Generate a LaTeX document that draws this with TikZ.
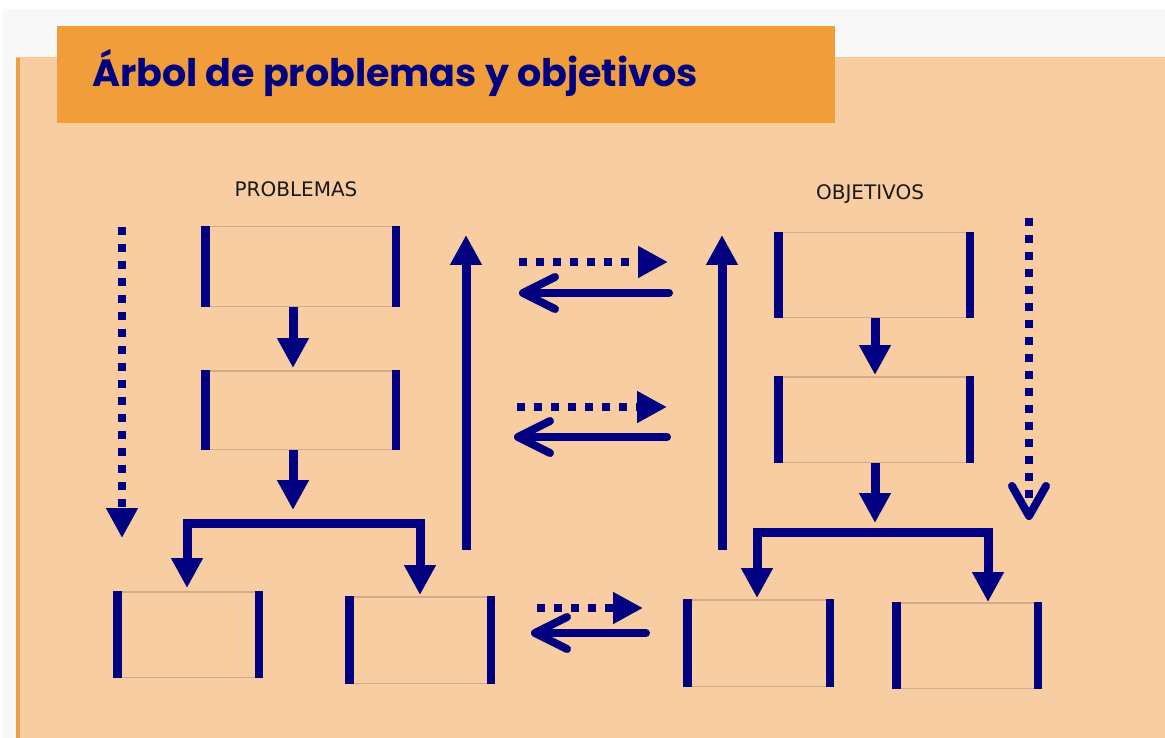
\documentclass[tikz,border=0pt]{standalone}
\usepackage{fontspec}
\newfontfamily\titlefont{Poppins}
\newfontfamily\labfont{DejaVu Sans}
\usetikzlibrary{arrows.meta}
\definecolor{navy}{RGB}{0,0,128}
\definecolor{peach}{RGB}{247,205,161}
\definecolor{orangebar}{RGB}{240,157,58}
\definecolor{edgeorange}{RGB}{238,160,70}
\definecolor{greybg}{RGB}{248,248,248}
\definecolor{tan}{RGB}{212,170,140}
\tikzset{
  boxline/.style={draw=tan, line width=1.5pt},
  tbox/.style={rectangle, inner sep=0pt, outer sep=0pt, fill=peach,
    path picture={
      \draw[boxline] ([yshift=-0.75pt]path picture bounding box.north west) -- ([yshift=-0.75pt]path picture bounding box.north east);
      \draw[boxline] ([yshift=0.75pt]path picture bounding box.south west) -- ([yshift=0.75pt]path picture bounding box.south east);
      \fill[navy] (path picture bounding box.north west) rectangle ([xshift=8.5pt]path picture bounding box.south west);
      \fill[navy] (path picture bounding box.north east) rectangle ([xshift=-8.5pt]path picture bounding box.south east);
    }},
  bigbox/.style={tbox, minimum width=199pt, minimum height=#1},
  smallbox/.style={tbox, minimum width=150pt, minimum height=#1},
  solidarr/.style={draw=navy, line width=9pt, -{Triangle[width=30pt,length=30pt]}},
  bracket/.style={draw=navy, line width=9pt, line join=miter,
    {Triangle[width=30pt,length=30pt]}-{Triangle[width=30pt,length=30pt]}},
  dotarr/.style={draw=navy, line width=8pt, dash pattern=on 8pt off 9pt, -{Triangle[width=30pt,length=30pt]}},
  barbarr/.style={draw=navy, line width=8pt, line cap=round, -{Straight Barb[length=32pt,width=32pt,round]}},
  dotbarb/.style={draw=navy, line width=8pt, dash pattern=on 8pt off 9pt, -{Straight Barb[length=30pt,width=34pt,round]}},
  heading/.style={font=\labfont\fontsize{20}{24}\selectfont, text=black!90, anchor=base, inner sep=0pt},
}
\begin{document}
\begin{tikzpicture}[x=1pt, y=-1pt]
\useasboundingbox (0,0) rectangle (1165,738);
% backgrounds
\fill[white] (0,0) rectangle (1165,738);
\fill[greybg] (3,9) rectangle (1165,738);
\fill[peach] (16,57) rectangle (1165,738);
\fill[edgeorange] (16,57) rectangle (19.5,738);
\draw[edgeorange!60, line width=1pt] (16,57.5) -- (1165,57.5);
\fill[orangebar] (57,26) rectangle (835,123);
\node[anchor=base west, inner sep=0pt, text=navy, font=\titlefont\bfseries\fontsize{38}{44}\selectfont] (title) at (92,87) {Árbol de problemas y objetivos};
% headings
\node[heading] (hprob) at (296,197) {PROBLEMAS};
\node[heading] (hobj) at (870,200) {OBJETIVOS};
% problem boxes
\node[bigbox=81pt] (p1) at (300.5,266.5) {};
\node[bigbox=80pt] (p2) at (300.5,410) {};
\node[smallbox=87pt] (p3) at (188,634.5) {};
\node[smallbox=88pt] (p4) at (420,640) {};
% objective boxes
\node[bigbox=86pt, minimum width=200pt] (o1) at (874,275) {};
\node[bigbox=87pt, minimum width=200pt] (o2) at (874,419.5) {};
\node[smallbox=88pt, minimum width=151pt] (o3) at (758.5,643) {};
\node[smallbox=87pt] (o4) at (967,645.5) {};
% problem tree connectors
\draw[solidarr] ([xshift=-7.5pt]p1.south) -- ([xshift=-7.5pt,yshift=2pt]p2.north);
\coordinate (pj) at (293,510);
\draw[solidarr] ([xshift=-7.5pt]p2.south) -- (pj);
\coordinate (pbl) at (187,523);
\coordinate (pbr) at (420,523);
\draw[bracket] ([yshift=3pt]p3.north -| pbl) -- (pbl) -- (pbr) -- ([yshift=1pt]p4.north -| pbr);
% objective tree connectors
\draw[solidarr] ([xshift=1pt]o1.south) -- ([xshift=1pt,yshift=1pt]o2.north);
\coordinate (oj) at (875,523);
\draw[solidarr] ([xshift=1pt]o2.south) -- (oj);
\coordinate (obl) at (757,532);
\coordinate (obr) at (988,532);
\draw[bracket] ([yshift=1pt]o3.north -| obl) -- (obl) -- (obr) -- (o4.north -| obr);
% vertical arrows
\coordinate (ld1) at (122,227);
\coordinate (ld2) at (122,538);
\draw[dotarr] (ld1) -- (ld2);
\coordinate (u1a) at (466,550);
\coordinate (u1b) at (466,235);
\draw[solidarr] (u1a) -- (u1b);
\coordinate (u2a) at (722,550);
\coordinate (u2b) at (722,235);
\draw[solidarr] (u2a) -- (u2b);
\coordinate (rd1) at (1029,218);
\coordinate (rd2) at (1029,520);
\draw[dotbarb] (rd1) -- (rd2);
% horizontal exchange arrows
\coordinate (a1) at (519,262); \coordinate (a2) at (668,262);
\draw[dotarr] (a1) -- (a2);
\coordinate (b1) at (669,293); \coordinate (b2) at (519,293);
\draw[barbarr] (b1) -- (b2);
\coordinate (c1) at (517,407); \coordinate (c2) at (667,407);
\draw[dotarr] (c1) -- (c2);
\coordinate (d1) at (667,437); \coordinate (d2) at (514,437);
\draw[barbarr] (d1) -- (d2);
\coordinate (e1) at (537,608); \coordinate (e2) at (643,608);
\draw[dotarr] (e1) -- (e2);
\coordinate (f1) at (646,633); \coordinate (f2) at (531,633);
\draw[barbarr] (f1) -- (f2);
\end{tikzpicture}
\end{document}
